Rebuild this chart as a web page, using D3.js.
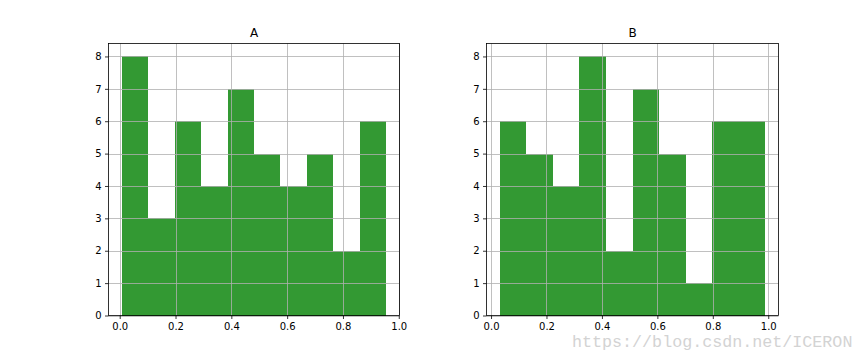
<!DOCTYPE html>
<html><head><meta charset="utf-8">
<script src="https://cdn.jsdelivr.net/npm/d3@7"></script>
<style>body{margin:0;background:#fff;}svg{display:block;}</style>
</head><body>
<svg id="c" width="864" height="360"></svg>
<script>
const panelTitles = ["A", "B"];
const edgesA = [0.0072, 0.1020, 0.1968, 0.2916, 0.3864, 0.4812, 0.5760, 0.6708, 0.7656, 0.8604, 0.9552];
const countsA = [8, 3, 6, 4, 7, 5, 4, 5, 2, 6];
const edgesB = [0.0315, 0.1273, 0.2231, 0.3188, 0.4146, 0.5103, 0.6061, 0.7019, 0.7976, 0.8934, 0.9891];
const countsB = [6, 5, 4, 8, 2, 7, 5, 1, 6, 6];
const xTicks = [0.0, 0.2, 0.4, 0.6, 0.8, 1.0];
const yTicks = [0, 1, 2, 3, 4, 5, 6, 7, 8];
const watermark = "https://blog.csdn.net/ICERON";

(function () {
const svg = d3.select("#c");
const panels = [
  {title: panelTitles[0], edges: edgesA, counts: countsA, left: 108.5, right: 399.5},
  {title: panelTitles[1], edges: edgesB, counts: countsB, left: 486.5, right: 778.5}
];
const plotTop = 43.5, plotBottom = 315.5;
const font = "'DejaVu Sans', sans-serif";

panels.forEach(p => {
  const lo = p.edges[0], hi = p.edges[p.edges.length - 1];
  const m = (hi - lo) * 0.05;
  const x = d3.scaleLinear().domain([lo - m, hi + m]).range([p.left, p.right]);
  const y = d3.scaleLinear().domain([0, 8.4]).range([plotBottom, plotTop]);
  const g = svg.append("g");
  const bins = p.counts.map((c, i) => ({x0: p.edges[i], x1: p.edges[i + 1], c}));
  g.selectAll("rect.bar").data(bins).enter().append("rect")
    .attr("x", d => Math.round(x(d.x0))).attr("width", d => Math.round(x(d.x1)) - Math.round(x(d.x0)))
    .attr("y", d => Math.round(y(d.c))).attr("height", d => Math.round(y(0)) - Math.round(y(d.c)))
    .attr("fill", "#339933").attr("shape-rendering", "crispEdges");
  g.selectAll("line.gx").data(xTicks).enter().append("line")
    .attr("x1", d => Math.round(x(d)) + 0.5).attr("x2", d => Math.round(x(d)) + 0.5)
    .attr("y1", plotTop).attr("y2", plotBottom).attr("stroke", "#b0b0b0").attr("stroke-width", 0.8);
  g.selectAll("line.gy").data(yTicks).enter().append("line")
    .attr("y1", d => Math.round(y(d)) + 0.5).attr("y2", d => Math.round(y(d)) + 0.5)
    .attr("x1", p.left).attr("x2", p.right).attr("stroke", "#b0b0b0").attr("stroke-width", 0.8);
  const xa = g.append("g").attr("transform", `translate(0,${plotBottom})`)
    .call(d3.axisBottom(x).tickValues(xTicks).tickFormat(d3.format(".1f")).tickSizeOuter(0).tickSize(3.5).tickPadding(3.5));
  const ya = g.append("g").attr("transform", `translate(${p.left},0)`)
    .call(d3.axisLeft(y).tickValues(yTicks).tickFormat(d3.format("d")).tickSizeOuter(0).tickSize(3.5).tickPadding(3.5));
  [xa, ya].forEach(a => {
    a.select(".domain").remove();
    a.selectAll("text").attr("font-family", font).attr("font-size", 10).attr("fill", "#000");
    a.selectAll("line").attr("stroke", "#000").attr("stroke-width", 0.8);
  });
  g.append("rect").attr("x", p.left).attr("y", plotTop).attr("width", p.right - p.left).attr("height", plotBottom - plotTop)
    .attr("fill", "none").attr("stroke", "#000").attr("stroke-width", 0.8);
  g.append("text").attr("x", (p.left + p.right) / 2).attr("y", 37)
    .attr("text-anchor", "middle").attr("font-family", font).attr("font-size", 12).text(p.title);
});

svg.append("text").attr("x", 572).attr("y", 347).attr("font-family", "'Liberation Mono', monospace")
  .attr("font-size", 16.7).attr("fill", "#d3d3d3").text(watermark);
})();
</script>
</body></html>
